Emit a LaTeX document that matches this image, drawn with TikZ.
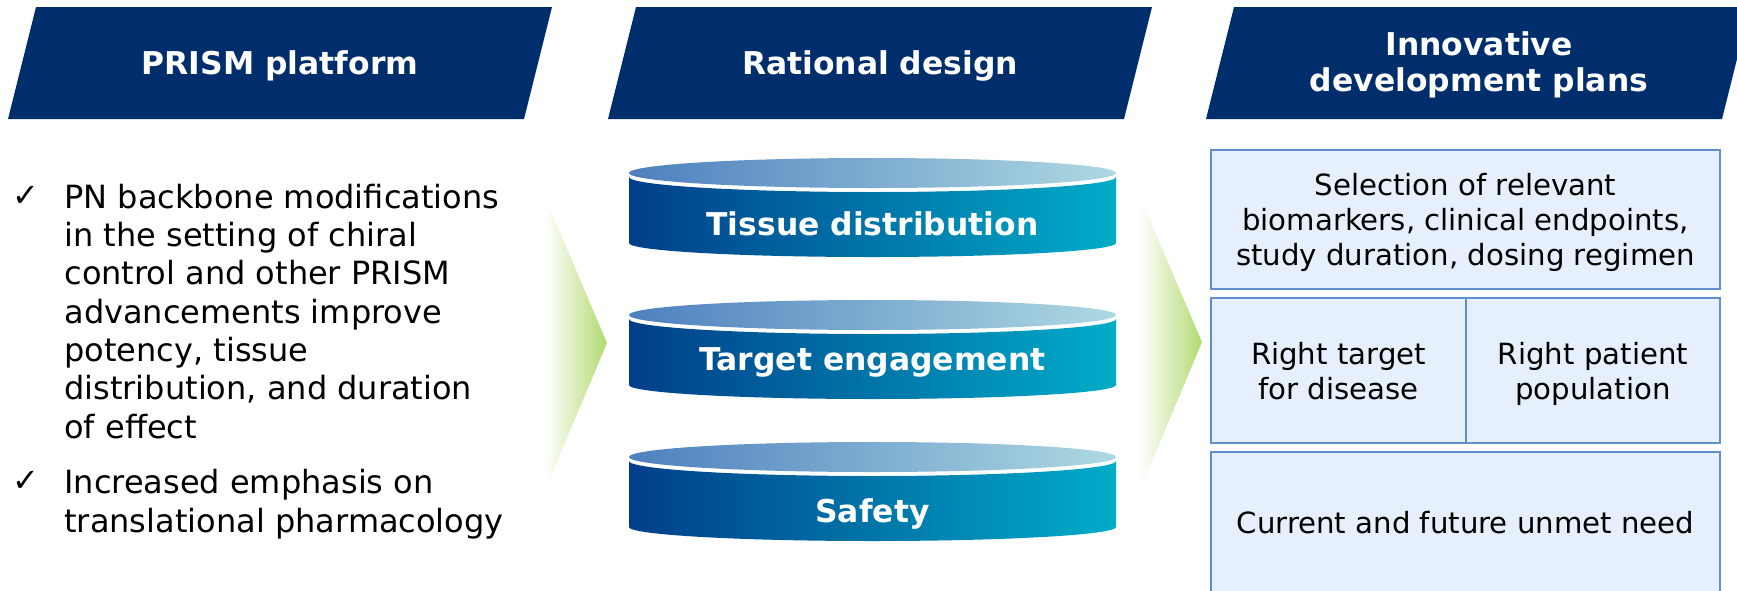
\documentclass[tikz,border=0pt]{standalone}
\usepackage{fontspec}
\setmainfont{DejaVu Sans}
\usepackage{tikz}
\usetikzlibrary{positioning}

\definecolor{navy1}{RGB}{0,46,108}
\definecolor{cylL}{RGB}{0,62,137}
\definecolor{cylR}{RGB}{0,172,200}
\definecolor{capL}{RGB}{78,128,190}
\definecolor{capR}{RGB}{174,217,226}
\definecolor{green1}{RGB}{178,218,112}
\definecolor{boxfill}{RGB}{230,240,253}
\definecolor{boxline}{RGB}{95,143,206}

\begin{document}
\begin{tikzpicture}[x=0.5pt, y=-0.5pt,
  hdr/.style={fill=navy1},
  hdrtext/.style={text=white, font=\fontsize{15.7pt}{18pt}\selectfont\bfseries, align=center, inner sep=0pt},
  chev/.style={left color=white, right color=green1},
  cyltext/.style={text=white, font=\fontsize{15.7pt}{18pt}\selectfont\bfseries, inner sep=0pt},
  bullet/.style={font=\fontsize{16pt}{19.15pt}\selectfont, align=left, inner sep=0pt},
  tick/.style={font=\fontsize{16pt}{18pt}\selectfont, inner sep=0pt},
  infobox/.style={draw=boxline, fill=boxfill, line width=1pt, outer sep=0pt, inner sep=0pt,
    align=center, text depth=0pt, font=\fontsize{14.6pt}{17.5pt}\selectfont}
]
  \useasboundingbox (0,0) rectangle (1737,590);

  % column headers
  \fill[hdr] (36,7) -- (552,7) -- (524,119) -- (8,119) -- cycle;
  \node[hdrtext, anchor=base] (prism) at (280,74) {PRISM platform};
  \fill[hdr] (636,7) -- (1152,7) -- (1124,119) -- (608,119) -- cycle;
  \node[hdrtext, anchor=base] (rational) at (880,74) {Rational design};
  \fill[hdr] (1234,7) -- (1750,7) -- (1722,119) -- (1206,119) -- cycle;
  \node[hdrtext] (innov) at (1479,65) {Innovative\\development plans};

  % left column (base = last line)
  \node[tick, anchor=base] (tick1) at (26,206) {✓};
  \node[bullet, anchor=base west] (pn) at (64,438) {PN backbone modifications\\in the setting of chiral\\control and other PRISM\\advancements improve\\potency, tissue\\distribution, and duration\\of effect};
  \node[tick, anchor=base] (tick2) at (26,491) {✓};
  \node[bullet, anchor=base west] (emph) at (64,532) {Increased emphasis on\\translational pharmacology};

  % green chevrons
  \shade[chev] (545,197) -- (607,343) -- (545,490) -- cycle;
  \shade[chev] (1140,197) -- (1202,342) -- (1140,490) -- cycle;

  % stacked drums
  \foreach \cy/\ty/\lbl/\nm in {173/235/Tissue distribution/tissue, 315/370/Target engagement/target, 457/522/Safety/safety}{
    \shade[left color=cylL, right color=cylR]
      (629,\cy+4) -- (629,\cy+70) arc[start angle=180, end angle=360, x radius=121.75pt, y radius=7pt]
      -- (1116,\cy+4) arc[start angle=0, end angle=-180, x radius=121.75pt, y radius=7.5pt] -- cycle;
    \fill[white] (872.5,\cy) ellipse[x radius=123pt, y radius=9.25pt];
    \shade[left color=capL, right color=capR] (872.5,\cy) ellipse[x radius=121.75pt, y radius=7.5pt];
    \node[cyltext, anchor=base] (\nm) at (872.5,\ty) {\lbl};
  }

  % right column boxes
  \node[infobox, minimum width=254.5pt, minimum height=69.5pt] (select) at (1465.5,219.5)
    {Selection of relevant\\biomarkers, clinical endpoints,\\study duration, dosing regimen};
  \node[infobox, minimum width=127.5pt, minimum height=72.5pt, below right=4.5pt and 0pt of select.south west] (righttarget)
    {Right target\\for disease};
  \node[infobox, minimum width=127pt, minimum height=72.5pt, right=0pt of righttarget] (patient)
    {Right patient\\population};
  \node[infobox, minimum width=254.5pt, minimum height=70pt, below right=4.5pt and 0pt of righttarget.south west] (unmet)
    {Current and future unmet need};
\end{tikzpicture}
\end{document}
